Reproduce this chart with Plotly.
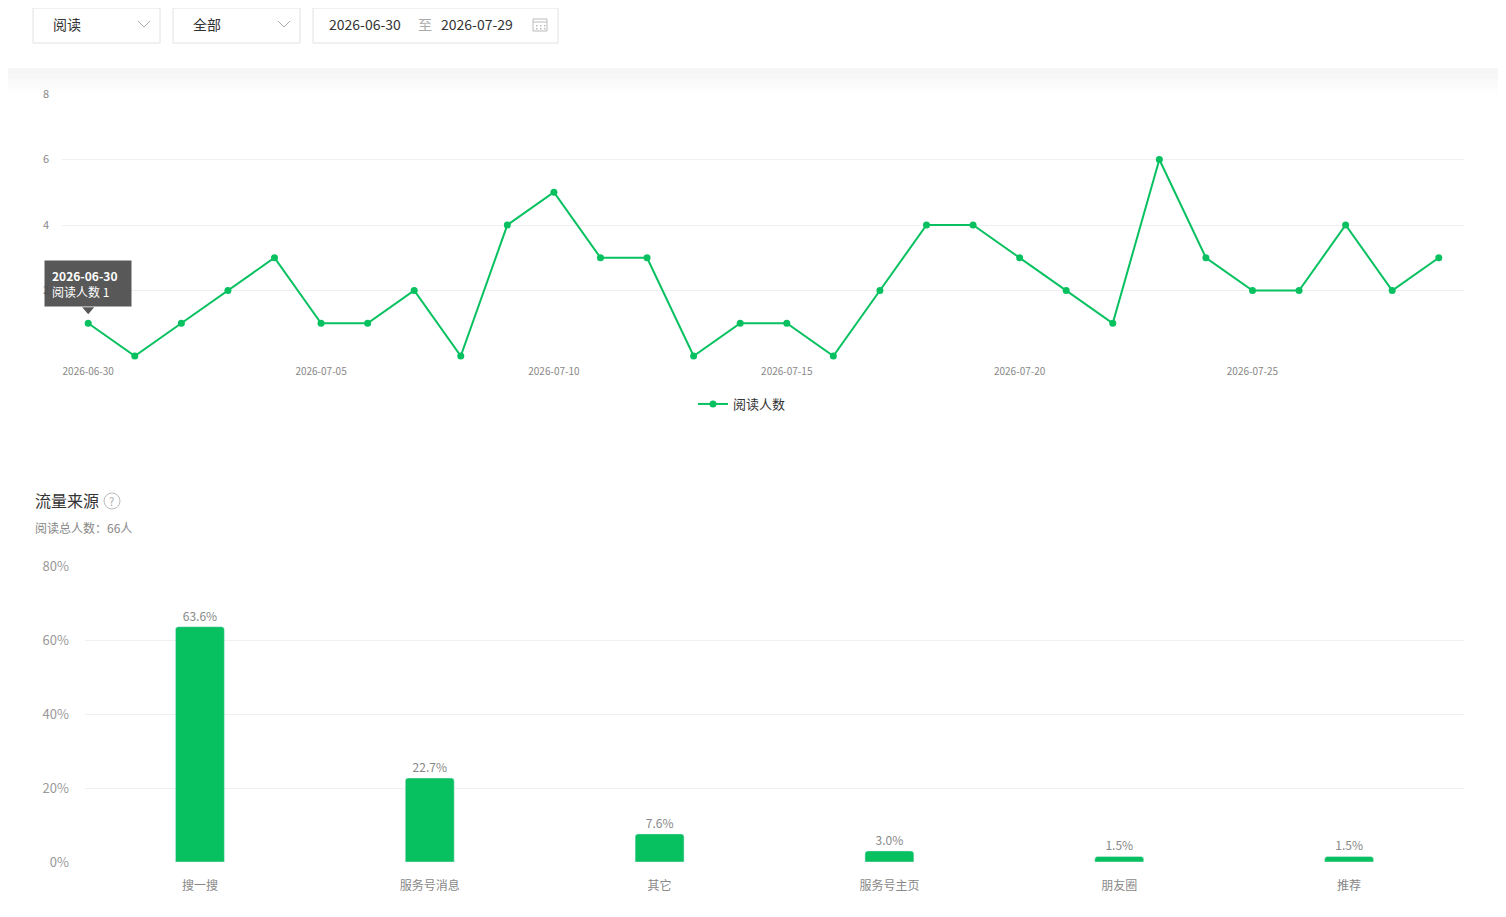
import plotly.graph_objects as go

# ---- data ----
dates = ['2026-06-30', '2026-07-01', '2026-07-02', '2026-07-03', '2026-07-04',
         '2026-07-05', '2026-07-06', '2026-07-07', '2026-07-08', '2026-07-09',
         '2026-07-10', '2026-07-11', '2026-07-12', '2026-07-13', '2026-07-14',
         '2026-07-15', '2026-07-16', '2026-07-17', '2026-07-18', '2026-07-19',
         '2026-07-20', '2026-07-21', '2026-07-22', '2026-07-23', '2026-07-24',
         '2026-07-25', '2026-07-26', '2026-07-27', '2026-07-28', '2026-07-29']
readers = [1, 0, 1, 2, 3, 1, 1, 2, 0, 4,
           5, 3, 3, 0, 1, 1, 0, 2, 4, 4,
           3, 2, 1, 6, 3, 2, 2, 4, 2, 3]
date_ticks = ['2026-06-30', '2026-07-05', '2026-07-10', '2026-07-15',
              '2026-07-20', '2026-07-25']

sources = ['搜一搜', '服务号消息', '其它', '服务号主页', '朋友圈', '推荐']
source_pct = [63.6, 22.7, 7.6, 3.0, 1.5, 1.5]
pct_ticks = [0, 20, 40, 60, 80]

GREEN = '#07C160'
FONT = 'Noto Sans CJK SC'
# page body has an 8px margin, so the figure is a bit smaller than the window
OFF = 8
W, H = 1506 - 2 * OFF, 917 - 2 * OFF


def px(x):
    return (x - OFF) / W


def py(y):
    return 1 - (y - OFF) / H


fig = go.Figure()

# line chart: daily readers
fig.add_trace(go.Scatter(x=dates, y=readers, name='阅读人数',
                         mode='lines+markers',
                         line=dict(color=GREEN, width=2),
                         marker=dict(color=GREEN, size=7),
                         cliponaxis=False,
                         xaxis='x', yaxis='y'))

# bar chart: traffic sources
fig.add_trace(go.Bar(x=sources, y=source_pct, showlegend=False,
                     marker=dict(color=GREEN, cornerradius=3),
                     width=0.213,
                     text=[f'{v:.1f}%' for v in source_pct],
                     textposition='outside',
                     textfont=dict(size=12, color='#888'),
                     cliponaxis=False,
                     xaxis='x2', yaxis='y2'))

shapes = []
annotations = []

# faint gray band under the filter bar
band = ['#f6f6f6', '#f7f7f7', '#f9f9f9', '#fbfbfb', '#fdfdfd']
for i, c in enumerate(band):
    shapes.append(dict(type='rect', xref='paper', yref='paper', layer='below',
                       x0=px(0), x1=px(1506), y0=py(68 + 5 * i + 5), y1=py(68 + 5 * i),
                       fillcolor=c, line_width=0))

# filter boxes
boxes = [(33, 160), (173, 300), (313, 558)]
for x0, x1 in boxes:
    shapes.append(dict(type='rect', xref='paper', yref='paper',
                       x0=px(x0), x1=px(x1), y0=py(43), y1=py(8),
                       fillcolor='white', line=dict(color='#e2e2e2', width=1)))
for cx in (144, 284):
    shapes.append(dict(type='path', xref='paper', yref='paper',
                       path=f'M {px(cx - 6)} {py(21)} L {px(cx)} {py(27)} L {px(cx + 6)} {py(21)}',
                       line=dict(color='#aaa', width=1)))
# calendar icon
shapes.append(dict(type='rect', xref='paper', yref='paper',
                   x0=px(533), x1=px(547), y0=py(31), y1=py(19),
                   line=dict(color='#bbb', width=1)))
shapes.append(dict(type='line', xref='paper', yref='paper',
                   x0=px(533), x1=px(547), y0=py(22), y1=py(22),
                   line=dict(color='#bbb', width=1)))
for dx in (536, 540, 544):
    for dy in (25, 28):
        shapes.append(dict(type='rect', xref='paper', yref='paper',
                           x0=px(dx), x1=px(dx + 1.5), y0=py(dy + 1.5), y1=py(dy),
                           fillcolor='#bbb', line_width=0))

for txt, x, col in [('阅读', 51, '#333'), ('全部', 191, '#333'),
                    ('2026-06-30', 327, '#333'), ('至', 416, '#aaa'),
                    ('2026-07-29', 439, '#333')]:
    annotations.append(dict(text=txt, x=px(x), y=py(24.5), xref='paper', yref='paper',
                            xanchor='left', yanchor='middle', showarrow=False,
                            font=dict(size=14, color=col)))

# section title
annotations.append(dict(text='流量来源', x=px(33), y=py(500), xref='paper', yref='paper',
                        xanchor='left', yanchor='middle', showarrow=False,
                        font=dict(size=16, color='#333')))
shapes.append(dict(type='circle', xref='paper', yref='paper',
                   x0=px(104), x1=px(120), y0=py(509), y1=py(493),
                   line=dict(color='#bbb', width=1)))
annotations.append(dict(text='?', x=px(112), y=py(501), xref='paper', yref='paper',
                        xanchor='center', yanchor='middle', showarrow=False,
                        font=dict(size=11, color='#aaa')))
annotations.append(dict(text=f'阅读总人数：{sum(readers)}人', x=px(33), y=py(527),
                        xref='paper', yref='paper', xanchor='left', yanchor='middle',
                        showarrow=False, font=dict(size=12, color='#888')))

# tooltip on first point
annotations.append(dict(text=f'<b>{dates[0]}</b><br>阅读人数 {readers[0]}',
                        x=dates[0], y=readers[0], xref='x', yref='y',
                        xanchor='center', yanchor='bottom', yshift=16,
                        showarrow=False, align='left', width=72, height=31,
                        bgcolor='rgba(70,70,70,0.9)', borderpad=7,
                        font=dict(size=12, color='white')))
shapes.append(dict(type='path', xref='x', yref='y', xsizemode='pixel', ysizemode='pixel',
                   xanchor=dates[0], yanchor=readers[0],
                   path='M -6 16 L 6 16 L 0 9 Z',
                   fillcolor='rgba(70,70,70,0.9)', line_width=0))

fig.update_layout(
    width=W, height=H,
    margin=dict(l=0, r=0, t=0, b=0, autoexpand=False),
    paper_bgcolor='white', plot_bgcolor='white',
    font=dict(family=FONT, color='#888'),
    hovermode=False,
    shapes=shapes,
    annotations=annotations,
    legend=dict(orientation='h', x=px(742), y=py(404), xanchor='center', yanchor='middle',
                font=dict(size=13, color='#333')),
    xaxis=dict(type='date', domain=[px(62), px(1464)], anchor='y',
               range=['2026-06-29 10:30', '2026-07-29 13:00'],
               tickvals=date_ticks, ticktext=date_ticks,
               showgrid=False, zeroline=False, showline=False, automargin=False,
               tickfont=dict(size=10, color='#888'), ticklabelstandoff=8),
    yaxis=dict(domain=[py(356), py(94)], anchor='x', range=[0, 8],
               tickvals=[0, 2, 4, 6, 8], ticktext=['', '2', '4', '6', '8'],
               showgrid=True, gridcolor='#efefef', gridwidth=1, zeroline=False,
               automargin=False,
               tickfont=dict(size=11, color='#888'), ticklabelstandoff=12),
    xaxis2=dict(domain=[px(85), px(1464)], anchor='y2', range=[-0.5, 5.5],
                showgrid=False, zeroline=False, showline=False, automargin=False,
                tickfont=dict(size=12, color='#888'), ticklabelstandoff=15),
    yaxis2=dict(domain=[py(862), py(566)], anchor='x2', range=[0, 80],
                tickvals=pct_ticks, ticktext=[f'{v}%' for v in pct_ticks],
                showgrid=True, gridcolor='#efefef', gridwidth=1, zeroline=False,
                automargin=False,
                tickfont=dict(size=13, color='#999'), ticklabelstandoff=15),
)

fig.write_html('out.html')
